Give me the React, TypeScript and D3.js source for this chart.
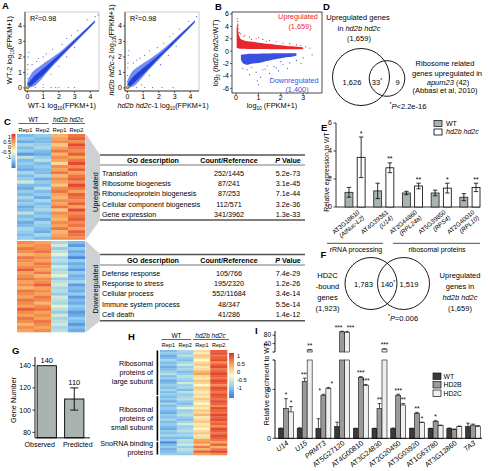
import React from "react";
import * as d3 from "d3";

const FONT = "'Liberation Sans', Arial, Helvetica, sans-serif";

// ---------- Panel A (scatter density, read as bands + sparse points)
const aTicks = [0, 1, 2, 3, 4];
const a1X = [0, 0.15, 0.4, 0.8, 1.2, 1.6, 2.0, 2.5, 3.0, 3.5, 4.0, 4.3];
const a1Lo = [0, 0.02, 0.1, 0.45, 0.95, 1.4, 1.82, 2.35, 2.86, 3.38, 3.9, 4.22];
const a1Hi = [0.4, 0.75, 1.1, 1.4, 1.7, 1.98, 2.27, 2.7, 3.15, 3.62, 4.1, 4.36];
const a1CoreLo = [0, 0.08, 0.28, 0.65, 1.05, 1.5, 1.92, 2.43, 2.93, 3.44, 3.95, 4.27];
const a1CoreHi = [0.18, 0.42, 0.72, 1.08, 1.42, 1.77, 2.12, 2.58, 3.07, 3.56, 4.05, 4.32];
const a1Pts = [[0.03, 1.2], [0.02, 0.9], [0.04, 0.6], [0.03, 1.5], [0.05, 2.0], [0.5, 0.02], [1.0, 0.03], [1.5, 0.02], [2.0, 0.04], [2.6, 0.02], [3.0, 0.03], [0.3, 1.5], [0.6, 1.7], [1.0, 2.0], [1.2, 2.2], [1.6, 2.5], [2.2, 2.8], [2.5, 3.2], [3.2, 3.7], [3.8, 4.4], [4.3, 4.6], [4.5, 4.7], [1.5, 0.9], [1.0, 0.2], [2.0, 1.4], [2.5, 2.0], [3.0, 2.6], [0.7, 1.9], [0.1, 2.3], [2.8, 3.4], [1.8, 0.02], [0.02, 0.3]];
const a2X = [0, 0.15, 0.4, 0.8, 1.2, 1.6, 2.0, 2.5, 3.0, 3.5, 4.0, 4.3];
const a2Lo = [0, 0.02, 0.12, 0.5, 0.98, 1.42, 1.84, 2.36, 2.87, 3.38, 3.9, 4.22];
const a2Hi = [0.45, 0.8, 1.15, 1.45, 1.72, 2.0, 2.28, 2.7, 3.16, 3.62, 4.1, 4.36];
const a2CoreLo = [0, 0.08, 0.3, 0.68, 1.07, 1.5, 1.93, 2.43, 2.93, 3.44, 3.95, 4.27];
const a2CoreHi = [0.2, 0.45, 0.75, 1.1, 1.44, 1.78, 2.12, 2.58, 3.07, 3.56, 4.05, 4.32];
const a2Pts = [[0.03, 1.3], [0.02, 0.8], [0.04, 1.6], [0.05, 2.1], [0.6, 0.02], [1.1, 0.03], [1.6, 0.02], [2.2, 0.03], [2.9, 0.02], [0.4, 1.6], [0.8, 1.9], [1.1, 2.1], [1.4, 2.4], [1.9, 2.6], [2.3, 2.9], [2.7, 3.3], [3.3, 3.8], [3.9, 4.3], [4.4, 4.6], [1.4, 0.8], [0.9, 0.2], [2.1, 1.5], [2.6, 2.1], [3.1, 2.7], [0.6, 1.8], [0.1, 2.4], [2.9, 3.5], [0.02, 0.4]];
const aHot = [[0.02, 0.02], [0.06, 0.04], [0.03, 0.09], [0.1, 0.06]];
const aHotDensity = [1, 0.75, 0.5, 0.3];

// ---------- Panel B (MA plot)
const bTicksX = [0, 1, 2, 3];
const bTicksY = [6, 4, 2, 0, -2, -4, -6];
const bUpX = [0.03, 0.06, 0.1, 0.15, 0.2, 0.3, 0.5, 0.75, 1.0, 1.25, 1.5, 1.75, 2.0, 2.25, 2.5, 2.75, 3.0];
const bUpHi = [3.5, 4.6, 3.2, 2.4, 2.0, 1.8, 1.6, 1.5, 1.35, 1.25, 1.15, 1.05, 0.95, 0.85, 0.8, 0.7, 0.6];
const bUpLo = [0.6, 0.5, 0.45, 0.4, 0.4, 0.38, 0.36, 0.35, 0.34, 0.33, 0.32, 0.31, 0.3, 0.3, 0.3, 0.3, 0.35];
const bDnX = [0.22, 0.3, 0.4, 0.5, 0.75, 1.0, 1.25, 1.5, 1.75, 2.0, 2.25, 2.5, 2.7];
const bDnHi = [-0.6, -0.55, -0.5, -0.45, -0.42, -0.4, -0.38, -0.36, -0.35, -0.34, -0.33, -0.33, -0.35];
const bDnLo = [-1.4, -1.9, -2.1, -2.2, -2.0, -1.9, -1.7, -1.5, -1.3, -1.15, -1.0, -0.9, -0.7];
const bUpPts = [[0.05, 5.2], [0.08, 4.8], [0.1, 4.2], [0.12, 3.6], [0.2, 2.8], [0.35, 2.4], [0.6, 2.3], [0.9, 2.0], [1.2, 1.9], [1.5, 1.7], [1.8, 1.5], [2.1, 1.3], [2.4, 1.2], [2.7, 1.0], [0.4, 2.6], [1.0, 2.2], [0.15, 3.0], [2.9, 0.9], [1.35, 1.6], [0.7, 1.9], [3.3, 0.5], [3.1, 0.7]];
const bDnPts = [[0.3, -2.8], [0.5, -3.0], [0.7, -2.6], [0.9, -3.4], [1.1, -4.2], [1.3, -2.9], [1.5, -3.6], [1.7, -2.5], [1.9, -3.2], [2.1, -2.2], [2.4, -1.9], [2.7, -1.5], [3.0, -1.1], [1.0, -5.4], [1.2, -3.0], [0.6, -3.8], [1.6, -4.4], [2.3, -2.8], [0.95, -4.8], [2.0, -1.7], [1.8, -2.7], [1.4, -2.4], [3.4, -0.6], [2.9, -2.0]];

// ---------- Panel C heatmaps
const cUpWT1 = [-0.6, -0.5, -0.7, -0.4, -0.6, -0.5, -0.8, -0.3, -0.6, -0.5, -0.6, -0.7, -0.4, -0.6, -0.5, -0.2, -0.6, -0.7, -0.5, -0.6, -0.4, -0.6, -0.5, -0.7, -0.6, -0.3, -0.6, -0.5, -0.7, -0.6, -0.4, -0.5, -0.6, -0.5];
const cUpWT2 = [-0.5, -0.6, -0.6, -0.5, -0.4, -0.6, -0.7, -0.5, -0.3, -0.6, -0.5, -0.6, -0.6, -0.4, -0.7, -0.5, -0.6, -0.3, -0.6, -0.5, -0.7, -0.4, -0.6, -0.5, -0.4, -0.6, -0.5, -0.7, -0.4, -0.5, -0.6, -0.7, -0.4, -0.6];
const cUpM1 = [0.4, 0.5, 0.6, 0.3, 0.5, 0.7, 0.4, 0.6, 0.5, 0.2, 0.6, 0.5, 0.7, 0.4, 0.6, 0.5, 0.3, 0.6, 0.7, 0.5, 0.4, 0.6, 0.5, 0.7, 0.3, 0.6, 0.5, 0.4, 0.6, 0.5, 0.7, 0.4, 0.5, 0.6];
const cUpM2 = [0.7, 0.8, 0.6, 0.9, 0.7, 0.6, 0.8, 0.5, 0.7, 0.9, 0.6, 0.8, 0.5, 0.7, 0.8, 0.6, 0.9, 0.7, 0.5, 0.8, 0.7, 0.6, 0.8, 0.5, 0.9, 0.6, 0.7, 0.8, 0.6, 0.7, 0.5, 0.8, 0.7, 0.6];
const cDnWT1 = [0.6, 0.5, 0.7, 0.6, 0.4, 0.7, 0.6, 0.5, 0.6, 0.8, 0.5, 0.6, 0.7, 0.5, 0.6, 0.4, 0.7, 0.6, 0.5, 0.7, 0.6, 0.5, 0.8, 0.6, 0.5, 0.7, 0.6, 0.4, 0.6, 0.5];
const cDnWT2 = [0.5, 0.6, 0.6, 0.7, 0.5, 0.6, 0.5, 0.7, 0.6, 0.5, 0.7, 0.4, 0.6, 0.6, 0.8, 0.5, 0.6, 0.5, 0.7, 0.6, 0.4, 0.6, 0.7, 0.5, 0.6, 0.5, 0.7, 0.6, 0.5, 0.6];
const cDnM1 = [-0.4, -0.2, -0.5, -0.3, -0.1, -0.4, -0.3, -0.5, -0.2, -0.4, -0.3, -0.1, -0.5, -0.3, -0.2, -0.4, -0.3, -0.5, -0.2, -0.3, -0.4, -0.1, -0.3, -0.5, -0.2, -0.4, -0.3, -0.2, -0.4, -0.3];
const cDnM2 = [-0.6, -0.8, -0.5, -0.7, -0.6, -0.9, -0.5, -0.7, -0.6, -0.8, -0.5, -0.7, -0.6, -0.4, -0.8, -0.6, -0.7, -0.5, -0.8, -0.6, -0.7, -0.5, -0.6, -0.8, -0.7, -0.5, -0.6, -0.8, -0.6, -0.7];
const repLabels = ["Rep1", "Rep2", "Rep1", "Rep2"];
const colorbarTicks = [1, 0.5, 0, -0.5, -1];

// ---------- GO tables
const goUpTerms = ["Translation", "Ribosome biogenesis", "Ribonucleoprotein biogenesis", "Cellular component biogenesis", "Gene expression"];
const goUpCounts = ["252/1445", "87/241", "87/253", "112/571", "341/3962"];
const goUpP = ["5.2e-73", "3.1e-45", "7.1e-44", "3.2e-36", "1.3e-33"];
const goDnTerms = ["Defense response", "Response to stress", "Cellular process", "Immune system process", "Cell death"];
const goDnCounts = ["105/766", "195/2320", "552/11684", "48/347", "41/286"];
const goDnP = ["7.4e-29", "1.2e-26", "3.4e-14", "5.5e-14", "1.4e-12"];

// ---------- Panel E
const eGenes = ["AT3G18610", "AT4G39361", "AT2G44860", "AT5G39850", "AT2G40010"];
const eAliases = ["(AtNuc-L2)", "(U14)", "(RPL24a)", "(RPS4)", "(RPL10)"];
const eWT = [1.05, 1.15, 1.0, 1.0, 0.7];
const eWTErr = [0.35, 0.55, 0.12, 0.2, 0.25];
const eMut = [3.55, 2.8, 1.5, 1.35, 1.4];
const eMutErr = [1.45, 0.35, 0.2, 0.35, 0.3];
const eStars = ["*", "**", "**", "*", "**"];
const eTicks = [0, 2, 4, 6];

// ---------- Panel G
const gCats = ["Observed", "Predicted"];
const gVals = [140, 110];
const gErrLo = [140, 100];
const gErrHi = [140, 120];
const gTicks = [80, 100, 120, 140];

// ---------- Panel H
const hWT1 = [-0.6, -0.5, -0.7, -0.6, -0.4, -0.6, -0.5, -0.7, -0.6, -0.5, -0.3, -0.6, -0.5, -0.7, -0.6, -0.5, -0.6, -0.4, -0.6, -0.5, -0.6, -0.5, -0.7, -0.4, -0.6, -0.5, -0.6, -0.7, -0.5, -0.6, -0.4, -0.6, -0.5, -0.6, -0.7, -0.5, -0.6, -0.4, -0.6, -0.5, -0.9, -0.6, -0.5, -0.7, -0.6, -0.5];
const hWT2 = [-0.4, -0.5, -0.3, -0.5, -0.6, -0.4, -0.2, -0.5, -0.4, -0.6, -0.5, -0.3, -0.4, -0.5, -0.2, -0.5, -0.4, -0.6, -0.3, -0.5, -0.4, -0.3, -0.5, -0.6, -0.4, -0.1, -0.5, -0.4, -0.3, -0.5, -0.6, -0.4, -0.2, -0.5, -0.4, -0.3, -0.5, -0.4, -0.6, -0.3, -0.4, -0.2, -0.5, -0.3, -0.4, -0.5];
const hM1 = [0.2, 0.1, 0.3, 0.2, 0.0, 0.2, 0.3, 0.1, 0.2, 0.4, 0.5, 0.2, 0.1, 0.3, 0.2, 0.0, 0.3, 0.2, 0.1, 0.2, 0.1, 0.3, 0.2, 0.0, 0.2, 0.1, 0.3, 0.2, 0.4, 0.1, 0.2, 0.3, 0.1, 0.2, 0.0, 0.2, 0.3, 0.1, 0.2, 0.5, 0.6, 0.3, 0.7, 0.4, 0.8, 0.5];
const hM2 = [0.8, 0.9, 0.7, 0.8, 0.9, 0.6, 0.8, 0.9, 0.7, 0.8, 0.9, 0.8, 0.7, 0.9, 0.8, 0.6, 0.9, 0.8, 0.7, 0.9, 0.8, 0.7, 0.9, 0.8, 0.6, 0.9, 0.8, 0.7, 0.9, 0.8, 0.9, 0.7, 0.8, 0.6, 0.9, 0.8, 0.7, 0.9, 0.8, 0.7, 0.5, 0.8, 0.4, 0.7, 0.9, 0.6];
const hGroupSizes = [20, 20, 6];
const hGroupLabels = [["Ribosomal", "proteins of", "large subunit"], ["Ribosomal", "proteins of", "small subunit"], ["SnoRNA binding", "proteins"]];

// ---------- Panel I
const iGenes = ["U14", "U15", "PRMT3", "AT5G27120", "AT4G00810", "AT3G24830", "AT2G20450", "AT3G03920", "AT1G63780", "AT3G12860", "TA3"];
const iItalic = [true, true, true, false, false, false, false, false, false, false, true];
const iSeries = ["WT", "HD2B", "HD2C"];
const iWT = [1, 1, 1, 1.2, 1, 1, 1, 1, 1, 1, 1.2];
const iWTErr = [0.05, 0.08, 1.0, 0.45, 0.03, 0.03, 0.05, 0.03, 0.03, 0.05, 0.35];
const iHD2B = [3.05, 5.8, 4.4, 96, 6.2, 3.05, 4.4, 2.55, 1.7, 0.9, 1.35];
const iHD2BErr = [1.0, 0.35, 0.1, 3, 0.1, 0.5, 0.1, 0.1, 0.1, 0.05, 0.1];
const iHD2C = [2.7, 10, 5.1, 94, 5.4, 14, 3.4, 1.6, 1.3, 1.2, 1.2];
const iHD2CErr = [0.55, 1, 0.1, 4, 0.1, 1, 0.15, 0.05, 0.05, 0.05, 0.1];
const iStarsB = ["*", "***", "*", "***", "***", "**", "***", "**", "*", "", ""];
const iStarsC = ["*", "**", "*", "***", "***", "***", "**", "*", "", "", ""];
const iTicksLow = [0, 5];
const iTicksHigh = [40, 80];

// ---------- shared
const heatColor = d3
  .scaleLinear<string>()
  .domain([-1, -0.5, 0, 0.5, 1])
  .range(["#3a78d8", "#92cdee", "#fbfbc4", "#f8a458", "#e0302a"])
  .clamp(true);

const Log10 = () => (
  <>
    log<tspan fontSize={4.8} dy={1.8}>10</tspan>
    <tspan dy={-1.8}>(FPKM+1)</tspan>
  </>
);

function Heatmap({ x, y, w, h, cols }: { x: number; y: number; w: number; h: number; cols: number[][] }) {
  const n = cols[0].length;
  const xs = d3.scaleBand<number>().domain(d3.range(cols.length)).range([x, x + w]);
  const ys = d3.scaleBand<number>().domain(d3.range(n)).range([y, y + h]);
  return (
    <g>
      {cols.map((col, ci) =>
        col.map((v, ri) => (
          <rect key={ci + "-" + ri} x={xs(ci)} y={ys(ri)} width={xs.bandwidth() + 0.3} height={ys.bandwidth() + 0.3} fill={heatColor(v)} />
        ))
      )}
    </g>
  );
}

function Colorbar({ id, x, y, w, h, labY0, labY1, labX, anchor }: any) {
  const ls = d3.scaleLinear().domain([-1, 1]).range([labY0, labY1]);
  return (
    <g>
      <defs>
        <linearGradient id={id} x1="0" y1="1" x2="0" y2="0">
          {[-1, -0.5, 0, 0.5, 1].map((v) => (
            <stop key={v} offset={(v + 1) / 2} stopColor={heatColor(v)} />
          ))}
        </linearGradient>
      </defs>
      <rect x={x} y={y} width={w} height={h} fill={`url(#${id})`} />
      {colorbarTicks.map((t) => (
        <text key={t} x={labX} y={ls(t)} dy="0.35em" fontSize={5.6} textAnchor={anchor}>
          {t}
        </text>
      ))}
    </g>
  );
}

function ScatterA({ left, right, X, Lo, Hi, CLo, CHi, pts, yLabX, yTitle, xTitle, xTitleX }: any) {
  const xs = d3.scaleLinear().domain([-0.15, 4.55]).range([left, right]);
  const ys = d3.scaleLinear().domain([-0.2, 4.9]).range([91, 12]);
  const idx = d3.range(X.length);
  const band = d3.area<number>().x((i) => xs(X[i])).y0((i) => ys(Lo[i])).y1((i) => ys(Hi[i])).curve(d3.curveMonotoneX);
  const core = d3.area<number>().x((i) => xs(X[i])).y0((i) => ys(CLo[i])).y1((i) => ys(CHi[i])).curve(d3.curveMonotoneX);
  const hotColor = d3.scaleLinear<string>().domain([0.3, 0.65, 1]).range(["#2cb34a", "#f2e22a", "#e32222"]);
  return (
    <g>
      <rect x={left} y={12} width={right - left} height={79} fill="none" stroke="#999" strokeWidth={0.5} />
      <path d={band(idx) || ""} fill="#5a78ee" opacity={0.85} />
      <path d={core(idx) || ""} fill="#2340d8" />
      {pts.map((p: number[], i: number) => (
        <circle key={i} cx={xs(p[0])} cy={ys(p[1])} r={0.55} fill="#3050e0" />
      ))}
      {aHot.map((p, i) => (
        <circle key={"h" + i} cx={xs(p[0])} cy={ys(p[1])} r={1.6 - i * 0.2} fill={hotColor(aHotDensity[i])} />
      ))}
      <line x1={left} x2={left} y1={12} y2={91} stroke="#000" strokeWidth={0.7} />
      <line x1={left} x2={right} y1={91} y2={91} stroke="#000" strokeWidth={0.7} />
      {aTicks.map((t) => (
        <g key={t}>
          <line x1={xs(t)} x2={xs(t)} y1={91} y2={93} stroke="#000" strokeWidth={0.6} />
          <text x={xs(t)} y={99} fontSize={7} textAnchor="middle">{t}</text>
          <line x1={left - 2} x2={left} y1={ys(t)} y2={ys(t)} stroke="#000" strokeWidth={0.6} />
          <text x={left - 3} y={ys(t)} dy="0.35em" fontSize={7} textAnchor="end">{t}</text>
        </g>
      ))}
      <text x={left + 5} y={21} fontSize={7.3}>
        R<tspan fontSize={4.8} dy={-2.5}>2</tspan>
        <tspan dy={2.5}>=0.98</tspan>
      </text>
      <text transform={`translate(${yLabX},${50}) rotate(-90)`} fontSize={7.3} textAnchor="middle">
        {yTitle}
      </text>
      <text x={xTitleX} y={108} fontSize={7.3} textAnchor="middle">
        {xTitle}
      </text>
    </g>
  );
}

function PanelB() {
  const xs = d3.scaleLinear().domain([0, 1]).range([236, 258.4]);
  const ys = d3.scaleLinear().domain([-6, 6]).range([88.3, 14]);
  const L = 232, R = 322, T = 12, B = 93;
  const up = d3.area<number>().x((i) => xs(bUpX[i])).y0((i) => ys(bUpLo[i])).y1((i) => ys(bUpHi[i])).curve(d3.curveMonotoneX);
  const dn = d3.area<number>().x((i) => xs(bDnX[i])).y0((i) => ys(bDnLo[i])).y1((i) => ys(bDnHi[i])).curve(d3.curveMonotoneX);
  return (
    <g>
      <text x={215} y={10} fontSize={9.5} fontWeight="bold">B</text>
      <path d={up(d3.range(bUpX.length)) || ""} fill="#e8262b" />
      <path d={dn(d3.range(bDnX.length)) || ""} fill="#3b4fe0" />
      {bUpPts.map((p, i) => (
        <circle key={"u" + i} cx={xs(p[0])} cy={ys(p[1])} r={0.6} fill="#e8262b" />
      ))}
      {bDnPts.map((p, i) => (
        <circle key={"d" + i} cx={xs(p[0])} cy={ys(p[1])} r={0.6} fill="#3b4fe0" />
      ))}
      <rect x={L} y={T} width={R - L} height={B - T} fill="none" stroke="#000" strokeWidth={0.7} />
      {bTicksX.map((t) => (
        <g key={t}>
          <line x1={xs(t)} x2={xs(t)} y1={B} y2={B + 2} stroke="#000" strokeWidth={0.6} />
          <text x={xs(t)} y={99.5} fontSize={7} textAnchor="middle">{t}</text>
        </g>
      ))}
      {bTicksY.map((t) => (
        <g key={t}>
          <line x1={L - 2} x2={L} y1={ys(t)} y2={ys(t)} stroke="#000" strokeWidth={0.6} />
          <text x={L - 3} y={ys(t)} dy="0.35em" fontSize={7} textAnchor="end">{t}</text>
        </g>
      ))}
      <text x={298} y={19} fontSize={7.3} fill="#e8262b" textAnchor="middle">Upregulated</text>
      <text x={300} y={28.5} fontSize={7.3} fill="#e8262b" textAnchor="middle">(1,659)</text>
      <text x={294} y={83} fontSize={7.3} fill="#3b4fe0" textAnchor="middle">Downregulated</text>
      <text x={297} y={92} fontSize={7.3} fill="#3b4fe0" textAnchor="middle">(1,400)</text>
      <text transform="translate(218,53) rotate(-90)" fontSize={7.3} textAnchor="middle">
        log<tspan fontSize={4.8} dy={1.8}>2</tspan>
        <tspan dy={-1.8}> (</tspan>
        <tspan fontStyle="italic">hd2b hd2c</tspan>/WT)
      </text>
      <text x={272} y={108} fontSize={7.3} textAnchor="middle">
        log<tspan fontSize={4.8} dy={1.8}>10</tspan>
        <tspan dy={-1.8}> (FPKM+1)</tspan>
      </text>
    </g>
  );
}

function PanelD() {
  return (
    <g fontSize={7.5}>
      <text x={323} y={10} fontSize={9.5} fontWeight="bold">D</text>
      <text x={358} y={20} textAnchor="middle">Upregulated genes</text>
      <text x={359} y={30.5} textAnchor="middle">
        in <tspan fontStyle="italic">hd2b hd2c</tspan>
      </text>
      <text x={359} y={41} textAnchor="middle">(1,659)</text>
      <circle cx={361} cy={77} r={28.5} fill="none" stroke="#000" strokeWidth={0.9} />
      <circle cx={387} cy={78.5} r={17.8} fill="none" stroke="#000" strokeWidth={0.9} />
      <text x={352} y={84.5} textAnchor="middle">1,626</text>
      <text x={377} y={84.5} textAnchor="middle">
        33<tspan fontSize={5} dy={-3}>*</tspan>
      </text>
      <text x={397.5} y={84.5} textAnchor="middle">9</text>
      <text x={445} y={66} textAnchor="middle">Ribosome related</text>
      <text x={447} y={75.5} textAnchor="middle">genes upregulated in</text>
      <text x={448} y={84.5} textAnchor="middle">
        <tspan fontStyle="italic">apum23</tspan> (42)
      </text>
      <text x={445} y={93} textAnchor="middle">(Abbasi et al, 2010)</text>
      <text x={408} y={108.5} textAnchor="middle">
        <tspan fontSize={5} dy={-2.5}>*</tspan>
        <tspan dy={2.5} fontStyle="italic">P</tspan>&lt;2.2e-16
      </text>
    </g>
  );
}

function PanelC() {
  const hx = 17, hw = 68;
  const cols = d3.scaleBand<number>().domain(d3.range(4)).range([hx, hx + hw]);
  const gray = "#cdd1d4";
  const tx = 100, tr = 305;
  const rowsUp = d3.scaleLinear().domain([0, 4]).range([173.3, 214.3]);
  const rowsDn = d3.scaleLinear().domain([0, 4]).range([273.3, 314.3]);
  const table = (terms: string[], counts: string[], ps: string[], top: number, hdr: number, bot: number, rows: any) => (
    <g fontSize={7.2}>
      <line x1={tx} x2={tr} y1={top} y2={top} stroke="#555" strokeWidth={1.4} />
      <text x={153} y={top + 8} fontWeight="bold" textAnchor="middle">GO description</text>
      <text x={229} y={top + 8} fontWeight="bold" textAnchor="middle">Count/Reference</text>
      <text x={288} y={top + 8} fontWeight="bold" textAnchor="middle">
        <tspan fontStyle="italic">P</tspan> Value
      </text>
      <line x1={tx} x2={tr} y1={hdr} y2={hdr} stroke="#555" strokeWidth={0.8} />
      {terms.map((t, i) => (
        <g key={t}>
          <text x={102} y={rows(i)} dy="0.35em">{t}</text>
          <text x={229} y={rows(i)} dy="0.35em" textAnchor="middle">{counts[i]}</text>
          <text x={288} y={rows(i)} dy="0.35em" textAnchor="middle">{ps[i]}</text>
        </g>
      ))}
      <line x1={tx} x2={tr} y1={bot} y2={bot} stroke="#555" strokeWidth={1.4} />
    </g>
  );
  return (
    <g>
      <text x={4} y={125} fontSize={9.5} fontWeight="bold">C</text>
      <text x={33.5} y={121.5} fontSize={6.5} textAnchor="middle">WT</text>
      <line x1={18.5} x2={48.5} y1={123.5} y2={123.5} stroke="#000" strokeWidth={0.6} />
      <text x={68.3} y={121.5} fontSize={6.5} textAnchor="middle" fontStyle="italic">hd2b hd2c</text>
      <line x1={52} x2={85} y1={123.5} y2={123.5} stroke="#000" strokeWidth={0.6} />
      {repLabels.map((r, i) => (
        <text key={i} x={(cols(i) || 0) + cols.bandwidth() / 2} y={131.5} fontSize={5.8} textAnchor="middle">{r}</text>
      ))}
      <Colorbar id="cbC" x={11.5} y={134} w={4} h={34} labY0={157.5} labY1={137.5} labX={11} anchor="end" />
      <polygon points="86,134 100,155 100,220 86,239.5" fill={gray} />
      <polygon points="86,241 100,254 100,321 86,332" fill={gray} />
      <Heatmap x={hx} y={134} w={hw} h={105.5} cols={[cUpWT1, cUpWT2, cUpM1, cUpM2]} />
      <Heatmap x={hx} y={241} w={hw} h={91} cols={[cDnWT1, cDnWT2, cDnM1, cDnM2]} />
      <text transform="translate(95.5,192) rotate(-90)" fontSize={7.3} textAnchor="middle" dy="0.35em">Upregulated</text>
      <text transform="translate(95.5,289) rotate(-90)" fontSize={7.3} textAnchor="middle" dy="0.35em">Downregulated</text>
      {table(goUpTerms, goUpCounts, goUpP, 155, 165, 220, rowsUp)}
      {table(goDnTerms, goDnCounts, goDnP, 254.5, 265, 320.7, rowsDn)}
    </g>
  );
}

function PanelE() {
  const ys = d3.scaleLinear().domain([0, 6]).range([207, 123]);
  const xb = d3.scaleBand<string>().domain(eGenes).range([345, 480]).paddingInner(0.3).paddingOuter(0);
  const xi = d3.scaleBand<string>().domain(["WT", "mut"]).range([0, xb.bandwidth()]).paddingInner(0.35);
  const bw = xi.bandwidth();
  const axX = 336;
  const rad = 40;
  const sn = Math.sin((rad * Math.PI) / 180), cs = Math.cos((rad * Math.PI) / 180);
  return (
    <g>
      <text x={321} y={131} fontSize={9.5} fontWeight="bold">E</text>
      <text transform="translate(326.5,172) rotate(-90)" fontSize={6.8} textAnchor="middle" dy="0.35em">Relative expression to WT</text>
      <line x1={axX} x2={axX} y1={ys(6)} y2={ys(0)} stroke="#000" strokeWidth={0.8} />
      <line x1={axX} x2={480} y1={ys(0)} y2={ys(0)} stroke="#000" strokeWidth={0.8} />
      {eTicks.map((t) => (
        <g key={t}>
          <line x1={axX - 2.5} x2={axX} y1={ys(t)} y2={ys(t)} stroke="#000" strokeWidth={0.7} />
          <text x={axX - 4} y={ys(t)} dy="0.35em" fontSize={7} textAnchor="end">{t}</text>
        </g>
      ))}
      {eGenes.map((g, i) => {
        const gx = xb(g) || 0;
        const wx = gx + (xi("WT") || 0);
        const mx = gx + (xi("mut") || 0);
        const cx = gx + xb.bandwidth() / 2;
        const eb = (x: number, v: number, e: number) => (
          <g stroke="#000" strokeWidth={0.8}>
            <line x1={x + bw / 2} x2={x + bw / 2} y1={ys(v - e)} y2={ys(v + e)} />
            <line x1={x + bw / 2 - 2.2} x2={x + bw / 2 + 2.2} y1={ys(v + e)} y2={ys(v + e)} />
            <line x1={x + bw / 2 - 2.2} x2={x + bw / 2 + 2.2} y1={ys(v - e)} y2={ys(v - e)} />
          </g>
        );
        return (
          <g key={g}>
            <rect x={wx} y={ys(eWT[i])} width={bw} height={ys(0) - ys(eWT[i])} fill="#a9b4b0" stroke="#222" strokeWidth={0.8} />
            <rect x={mx} y={ys(eMut[i])} width={bw} height={ys(0) - ys(eMut[i])} fill="#fff" stroke="#000" strokeWidth={0.8} />
            {eb(wx, eWT[i], eWTErr[i])}
            {eb(mx, eMut[i], eMutErr[i])}
            <text x={mx + bw / 2} y={ys(eMut[i] + eMutErr[i]) - 1.5} fontSize={7} textAnchor="middle">{eStars[i]}</text>
            <g transform={`translate(${cx + 5},${213}) rotate(${-rad})`} fontSize={6.3}>
              <text textAnchor="end">{g}</text>
            </g>
            <g transform={`translate(${cx + 5 + 7.2 * sn},${213 + 7.2 * cs}) rotate(${-rad})`} fontSize={6.3}>
              <text textAnchor="end" fontStyle="italic">{eAliases[i]}</text>
            </g>
          </g>
        );
      })}
      <line x1={327} x2={383} y1={243.3} y2={243.3} stroke="#000" strokeWidth={0.7} />
      <line x1={393} x2={480} y1={243.3} y2={243.3} stroke="#000" strokeWidth={0.7} />
      <text x={356} y={251.5} fontSize={7} textAnchor="middle">rRNA processing</text>
      <text x={437} y={251.5} fontSize={7} textAnchor="middle">ribosomal proteins</text>
      <rect x={434} y={120.5} width={8} height={6} fill="#a9b4b0" stroke="#222" strokeWidth={0.8} />
      <text x={446} y={123.5} dy="0.35em" fontSize={7}>WT</text>
      <rect x={434} y={129} width={8} height={6} fill="#fff" stroke="#000" strokeWidth={0.8} />
      <text x={446} y={132} dy="0.35em" fontSize={7} fontStyle="italic">hd2b hd2c</text>
    </g>
  );
}

function PanelF() {
  return (
    <g fontSize={7.5}>
      <text x={320.5} y={258} fontSize={9.5} fontWeight="bold">F</text>
      <circle cx={371} cy={283.5} r={26} fill="none" stroke="#000" strokeWidth={0.9} />
      <circle cx={403.5} cy={283.5} r={26} fill="none" stroke="#000" strokeWidth={0.9} />
      <text x={363.5} y={284} dy="0.35em" textAnchor="middle">1,783</text>
      <text x={388} y={284} dy="0.35em" textAnchor="middle">
        140<tspan fontSize={5} dy={-3}>*</tspan>
      </text>
      <text x={409} y={284} dy="0.35em" textAnchor="middle">1,519</text>
      <text x={327.5} y={275} dy="0.35em" textAnchor="middle">HD2C</text>
      <text x={327.5} y={286.2} dy="0.35em" textAnchor="middle">-bound</text>
      <text x={327.5} y={297.4} dy="0.35em" textAnchor="middle">genes</text>
      <text x={327.5} y={308.6} dy="0.35em" textAnchor="middle">(1,923)</text>
      <text x={460} y={275} dy="0.35em" textAnchor="middle">Upregulated</text>
      <text x={460} y={286.2} dy="0.35em" textAnchor="middle">genes in</text>
      <text x={460} y={297.4} dy="0.35em" textAnchor="middle" fontStyle="italic">hd2b hd2c</text>
      <text x={460} y={308.6} dy="0.35em" textAnchor="middle">(1,659)</text>
      <text x={403} y={320.5} textAnchor="middle">
        <tspan fontSize={5} dy={-2.5}>*</tspan>
        <tspan dy={2.5} fontStyle="italic">P</tspan>=0.006
      </text>
    </g>
  );
}

function PanelG() {
  const ys = d3.scaleLinear().domain([80, 140]).range([432.3, 365.7]);
  const xb = d3.scaleBand<string>().domain(gCats).range([33, 88]).paddingInner(0.3).paddingOuter(0.15);
  const axX = 35;
  const labelShift = [-7, 3.5];
  return (
    <g>
      <text x={12} y={354} fontSize={9.5} fontWeight="bold">G</text>
      <text transform="translate(13.5,400) rotate(-90)" fontSize={7.3} textAnchor="middle" dy="0.35em">Gene Number</text>
      {gCats.map((c, i) => {
        const x = xb(c) || 0;
        const w = xb.bandwidth();
        return (
          <g key={c}>
            <rect x={x} y={ys(gVals[i])} width={w} height={ys(75) - ys(gVals[i])} fill="#a9b4b1" stroke="#000" strokeWidth={0.9} />
            {gErrHi[i] !== gErrLo[i] && (
              <g stroke="#000" strokeWidth={0.9}>
                <line x1={x + w / 2} x2={x + w / 2} y1={ys(gErrLo[i])} y2={ys(gErrHi[i])} />
                <line x1={x + w / 2 - 4} x2={x + w / 2 + 4} y1={ys(gErrLo[i])} y2={ys(gErrLo[i])} />
                <line x1={x + w / 2 - 4} x2={x + w / 2 + 4} y1={ys(gErrHi[i])} y2={ys(gErrHi[i])} />
              </g>
            )}
            <text x={x + w / 2} y={Math.min(ys(gVals[i]), ys(gErrHi[i])) - 3} fontSize={7.5} textAnchor="middle">{gVals[i]}</text>
            <text x={x + w / 2 + labelShift[i]} y={447} fontSize={7} textAnchor="middle">{c}</text>
          </g>
        );
      })}
      <line x1={axX} x2={axX} y1={357} y2={ys(75)} stroke="#000" strokeWidth={0.9} />
      <line x1={axX} x2={90} y1={ys(75)} y2={ys(75)} stroke="#000" strokeWidth={0.9} />
      {gTicks.map((t) => (
        <g key={t}>
          <line x1={axX - 2.5} x2={axX} y1={ys(t)} y2={ys(t)} stroke="#000" strokeWidth={0.8} />
          <text x={axX - 4} y={ys(t)} dy="0.35em" fontSize={7} textAnchor="end">{t}</text>
        </g>
      ))}
    </g>
  );
}

function PanelH() {
  const hx = 160, hw = 67, top = 350, bottom = 455;
  const cols = d3.scaleBand<number>().domain(d3.range(4)).range([hx, hx + hw]);
  const total = d3.sum(hGroupSizes);
  const rowY = d3.scaleLinear().domain([0, total]).range([top, bottom]);
  const starts = hGroupSizes.map((_, i) => d3.sum(hGroupSizes.slice(0, i)));
  return (
    <g>
      <text x={128} y={340} fontSize={9.5} fontWeight="bold">H</text>
      <text x={176.5} y={337.5} fontSize={6.5} textAnchor="middle">WT</text>
      <line x1={161.5} x2={191} y1={339.5} y2={339.5} stroke="#000" strokeWidth={0.6} />
      <text x={210.5} y={337.5} fontSize={6.5} textAnchor="middle" fontStyle="italic">hd2b hd2c</text>
      <line x1={193} x2={229} y1={339.5} y2={339.5} stroke="#000" strokeWidth={0.6} />
      {repLabels.map((r, i) => (
        <text key={i} x={(cols(i) || 0) + cols.bandwidth() / 2} y={347.3} fontSize={5.6} textAnchor="middle">{r}</text>
      ))}
      <Heatmap x={hx} y={top} w={hw} h={bottom - top} cols={[hWT1, hWT2, hM1, hM2]} />
      {hGroupSizes.map((n, gi) => {
        const y0 = rowY(starts[gi]);
        const y1 = rowY(starts[gi] + n);
        const mid = (y0 + y1) / 2;
        const labs = hGroupLabels[gi];
        const lh = 9;
        return (
          <g key={gi}>
            <rect x={156.6} y={y0 + 0.5} width={1.6} height={y1 - y0 - 1} fill="#000" />
            {labs.map((l, li) => (
              <text key={li} x={153} y={mid + (li - (labs.length - 1) / 2) * lh} dy="0.35em" fontSize={7.2} textAnchor="end">{l}</text>
            ))}
          </g>
        );
      })}
      <Colorbar id="cbH" x={229} y={353} w={5} h={45} labY0={388.5} labY1={356.5} labX={237} anchor="start" />
    </g>
  );
}

function PanelI() {
  const axX = 275;
  const yLow = d3.scaleLinear().domain([0, 8]).range([438.3, 360]);
  const yHigh = d3.scaleLinear().domain([0, 100]).range([352, 331]);
  const lowMax = 8;
  const xb = d3.scaleBand<string>().domain(iGenes).range([278.5, 480.5]).paddingInner(0.2).paddingOuter(0);
  const xi = d3.scaleBand<string>().domain(iSeries).range([0, xb.bandwidth()]);
  const bw = xi.bandwidth();
  const vals = [iWT, iHD2B, iHD2C];
  const errs = [iWTErr, iHD2BErr, iHD2CErr];
  const fills = ["#3a3a3a", "#9a9a9a", "#efefef"];
  const yOf = (v: number) => (v <= lowMax ? yLow(v) : yHigh(v));
  const rad = 38;
  return (
    <g>
      <text x={255} y={334} fontSize={9.5} fontWeight="bold">I</text>
      <text transform="translate(266.5,384) rotate(-90)" fontSize={7} textAnchor="middle" dy="0.35em">Relative enrichment to WT</text>
      {iGenes.map((g, gi) => {
        const gx = xb(g) || 0;
        const cx = gx + xb.bandwidth() / 2;
        const topB = yOf(iHD2B[gi] + iHD2BErr[gi]);
        const topC = yOf(iHD2C[gi] + iHD2CErr[gi]);
        const close = iStarsB[gi] && iStarsC[gi] && Math.abs(topB - topC) < 7;
        return (
          <g key={g}>
            {iSeries.map((s, si) => {
              const v = vals[si][gi];
              const e = errs[si][gi];
              const x = gx + (xi(s) || 0);
              const mx = x + bw / 2;
              const stars = si === 1 ? iStarsB[gi] : si === 2 ? iStarsC[gi] : "";
              const shift = close ? (si === 1 ? -3.5 : 3.5) : 0;
              return (
                <g key={s}>
                  <rect x={x} y={yLow(Math.min(v, lowMax))} width={bw} height={yLow(0) - yLow(Math.min(v, lowMax))} fill={fills[si]} stroke="#111" strokeWidth={0.6} />
                  {v > lowMax && (
                    <rect x={x} y={yHigh(v)} width={bw} height={yHigh(0) - yHigh(v)} fill={fills[si]} stroke="#111" strokeWidth={0.6} />
                  )}
                  <g stroke="#000" strokeWidth={0.7}>
                    <line x1={mx} x2={mx} y1={yOf(v)} y2={yOf(v + e)} />
                    <line x1={mx - 1.8} x2={mx + 1.8} y1={yOf(v + e)} y2={yOf(v + e)} />
                  </g>
                  {stars && (
                    <text x={mx + shift} y={yOf(v + e) - 1.5} fontSize={6.5} textAnchor="middle">{stars}</text>
                  )}
                </g>
              );
            })}
            <g transform={`translate(${cx + 3},${444}) rotate(${-rad})`} fontSize={7.2}>
              <text textAnchor="end" fontStyle={iItalic[gi] ? "italic" : "normal"}>{g}</text>
            </g>
          </g>
        );
      })}
      <line x1={axX} x2={axX} y1={yLow(lowMax)} y2={yLow(0)} stroke="#000" strokeWidth={0.9} />
      <line x1={axX} x2={axX} y1={yHigh(100)} y2={yHigh(0)} stroke="#000" strokeWidth={0.9} />
      <line x1={axX - 2.5} x2={axX} y1={yLow(lowMax)} y2={yLow(lowMax)} stroke="#000" strokeWidth={0.9} />
      <line x1={axX - 2.5} x2={axX} y1={yHigh(0)} y2={yHigh(0)} stroke="#000" strokeWidth={0.9} />
      <line x1={axX} x2={482} y1={yLow(0)} y2={yLow(0)} stroke="#000" strokeWidth={0.9} />
      {iTicksLow.map((t) => (
        <g key={"l" + t}>
          <line x1={axX - 2.5} x2={axX} y1={yLow(t)} y2={yLow(t)} stroke="#000" strokeWidth={0.7} />
          <text x={axX - 4} y={yLow(t)} dy="0.35em" fontSize={7} textAnchor="end">{t}</text>
        </g>
      ))}
      {iTicksHigh.map((t) => (
        <g key={"h" + t}>
          <line x1={axX - 2.5} x2={axX} y1={yHigh(t)} y2={yHigh(t)} stroke="#000" strokeWidth={0.7} />
          <text x={axX - 4} y={yHigh(t)} dy="0.35em" fontSize={6.5} textAnchor="end">{t}</text>
        </g>
      ))}
      {iSeries.map((s, si) => (
        <g key={s}>
          <rect x={433} y={373 + si * 8.5} width={8} height={6.5} fill={fills[si]} stroke="#111" strokeWidth={0.7} />
          <text x={443.5} y={376.3 + si * 8.5} dy="0.35em" fontSize={6.8}>{s}</text>
        </g>
      ))}
    </g>
  );
}

export default function App() {
  return (
    <div style={{ position: "absolute", left: 0, top: 0, width: 488, height: 471, background: "#fff" }}>
      <svg width={488} height={471} viewBox="0 0 488 471" style={{ display: "block", fontFamily: FONT }} fill="#000">
        <rect x={0} y={0} width={488} height={471} fill="#fff" />
        <text x={2} y={9} fontSize={9.5} fontWeight="bold">A</text>
        <ScatterA
          left={25}
          right={99}
          X={a1X}
          Lo={a1Lo}
          Hi={a1Hi}
          CLo={a1CoreLo}
          CHi={a1CoreHi}
          pts={a1Pts}
          yLabX={12}
          yTitle={<>WT-2 <Log10 /></>}
          xTitle={<>WT-1 <Log10 /></>}
          xTitleX={62}
        />
        <ScatterA
          left={125}
          right={199}
          X={a2X}
          Lo={a2Lo}
          Hi={a2Hi}
          CLo={a2CoreLo}
          CHi={a2CoreHi}
          pts={a2Pts}
          yLabX={114}
          yTitle={<><tspan fontStyle="italic">hd2b hd2c</tspan>-2 <Log10 /></>}
          xTitle={<><tspan fontStyle="italic">hd2b hd2c</tspan>-1 <Log10 /></>}
          xTitleX={163}
        />
        <PanelB />
        <PanelD />
        <PanelC />
        <PanelE />
        <PanelF />
        <PanelG />
        <PanelH />
        <PanelI />
      </svg>
    </div>
  );
}
